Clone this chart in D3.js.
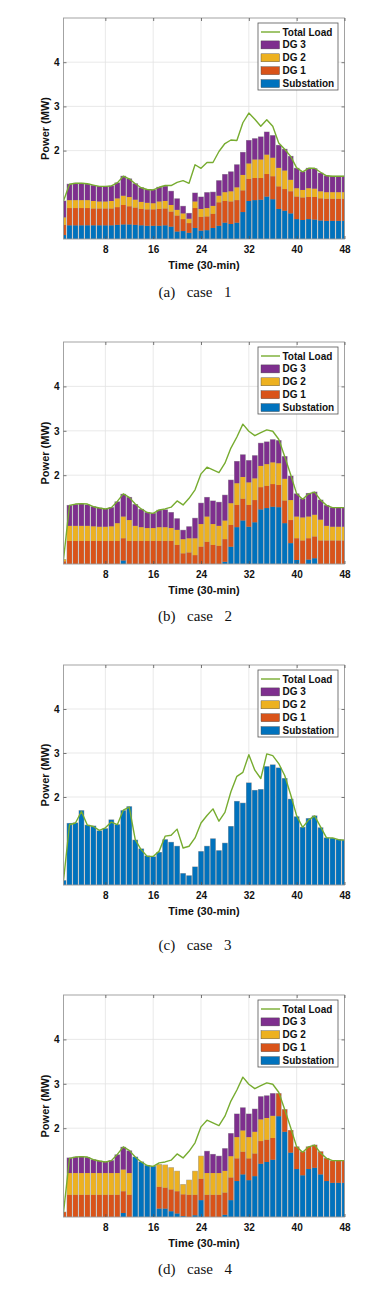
<!DOCTYPE html>
<html><head><meta charset="utf-8">
<script src="https://cdn.jsdelivr.net/npm/d3@7"></script>
<style>body{margin:0;background:#fff}svg{display:block}</style>
</head><body><svg id="c" width="390" height="1296"></svg>
<script>
// ---------- DATA ----------
const time = [1,2,3,4,5,6,7,8,9,10,11,12,13,14,15,16,17,18,19,20,21,22,23,24,25,26,27,28,29,30,31,32,33,34,35,36,37,38,39,40,41,42,43,44,45,46,47,48];
const xTickValues = [8,16,24,32,40,48];
const yTickValues = [2,3,4];
const legendLabels = ["Total Load","DG 3","DG 2","DG 1","Substation"];
const captions = ["(a)  case  1","(b)  case  2","(c)  case  3","(d)  case  4"];
const xLabel = "Time (30-min)";
const yLabel = "Power (MW)";

// case 1
const case1Sub = [0.09,0.31,0.31,0.31,0.31,0.31,0.31,0.31,0.31,0.32,0.33,0.33,0.32,0.31,0.30,0.30,0.30,0.31,0.28,0.17,0.18,0.14,0.25,0.19,0.20,0.25,0.30,0.37,0.34,0.37,0.61,0.86,0.88,0.89,0.96,0.90,0.68,0.64,0.58,0.45,0.43,0.45,0.44,0.42,0.41,0.41,0.41,0.41];
const case1DG1 = [0.23,0.39,0.39,0.39,0.39,0.38,0.38,0.38,0.38,0.40,0.44,0.41,0.39,0.37,0.37,0.37,0.38,0.38,0.34,0.36,0.27,0.22,0.45,0.31,0.31,0.32,0.53,0.49,0.51,0.51,0.49,0.50,0.50,0.49,0.51,0.52,0.51,0.49,0.50,0.51,0.51,0.50,0.51,0.50,0.50,0.50,0.50,0.50];
const case1DG2 = [0.17,0.18,0.18,0.18,0.18,0.17,0.16,0.16,0.17,0.20,0.21,0.21,0.18,0.16,0.15,0.14,0.17,0.17,0.15,0.13,0.13,0.10,0.15,0.18,0.19,0.18,0.15,0.20,0.23,0.29,0.35,0.35,0.42,0.42,0.44,0.42,0.42,0.42,0.26,0.19,0.17,0.20,0.19,0.16,0.15,0.15,0.15,0.15];
const case1DG3 = [0.37,0.36,0.38,0.38,0.36,0.35,0.34,0.34,0.34,0.35,0.44,0.41,0.36,0.32,0.30,0.30,0.32,0.33,0.31,0.25,0.16,0.12,0.19,0.27,0.35,0.31,0.34,0.40,0.44,0.51,0.51,0.52,0.47,0.51,0.51,0.50,0.51,0.48,0.53,0.45,0.41,0.45,0.45,0.41,0.37,0.36,0.36,0.36];
const case1Load = [0.86,1.24,1.26,1.26,1.25,1.22,1.19,1.19,1.20,1.27,1.42,1.36,1.25,1.16,1.12,1.11,1.17,1.21,1.21,1.28,1.32,1.26,1.68,1.60,1.73,1.73,1.98,2.16,2.24,2.23,2.63,2.85,2.71,2.55,2.70,2.55,2.17,2.03,1.87,1.61,1.52,1.60,1.60,1.51,1.43,1.42,1.42,1.42];

// case 2
const case2Sub = [0,0,0,0,0,0,0,0,0,0,0.08,0,0,0,0,0,0,0,0,0,0,0,0,0,0,0,0,0.05,0.39,0.83,0.98,0.84,0.94,1.23,1.26,1.29,1.28,0.92,0.47,0.09,0,0.10,0.13,0,0,0,0,0];
const case2DG1 = [0.06,0.52,0.52,0.52,0.52,0.52,0.52,0.52,0.52,0.52,0.50,0.52,0.52,0.52,0.52,0.52,0.52,0.52,0.52,0.43,0.24,0.26,0.20,0.39,0.50,0.43,0.41,0.51,0.49,0.50,0.49,0.49,0.50,0.50,0.50,0.51,0.50,0.51,0.52,0.49,0.53,0.48,0.49,0.53,0.53,0.53,0.53,0.53];
const case2DG2 = [0.04,0.34,0.34,0.34,0.34,0.33,0.32,0.32,0.33,0.40,0.49,0.47,0.34,0.31,0.29,0.29,0.31,0.31,0.29,0.34,0.32,0.32,0.38,0.51,0.57,0.47,0.45,0.42,0.49,0.49,0.49,0.51,0.49,0.48,0.49,0.49,0.49,0.49,0.45,0.49,0.52,0.49,0.49,0.47,0.33,0.31,0.31,0.31];
const case2DG3 = [0,0.46,0.48,0.49,0.47,0.44,0.42,0.40,0.42,0.48,0.50,0.51,0.48,0.40,0.35,0.33,0.38,0.39,0.35,0.25,0.20,0.26,0.45,0.47,0.43,0.52,0.53,0.57,0.52,0.49,0.50,0.49,0.51,0.51,0.50,0.51,0.51,0.50,0.54,0.51,0.42,0.52,0.51,0.44,0.46,0.43,0.43,0.43];
const case2Load = [0.10,1.32,1.35,1.36,1.35,1.29,1.26,1.24,1.27,1.41,1.58,1.50,1.35,1.24,1.16,1.14,1.22,1.24,1.28,1.42,1.33,1.48,1.67,2.03,2.18,2.12,2.06,2.27,2.61,2.86,3.15,2.99,2.89,2.96,3.02,2.99,2.81,2.42,2.01,1.58,1.46,1.58,1.62,1.44,1.32,1.27,1.27,1.27];

// case 3
const case3Sub = [0.10,1.40,1.41,1.69,1.36,1.34,1.23,1.28,1.48,1.37,1.69,1.78,1.02,0.82,0.66,0.64,0.74,1.03,0.97,0.88,0.26,0.21,0.41,0.76,0.88,1.05,0.78,0.95,1.33,1.90,1.86,2.32,2.15,2.17,2.69,2.73,2.66,2.42,1.95,1.55,1.31,1.51,1.57,1.30,1.07,1.06,1.03,1.02];
const case3DG1 = [0,0,0,0,0,0,0,0,0,0,0,0,0,0,0,0,0,0,0,0,0,0,0,0,0,0,0,0,0,0,0,0,0,0,0,0,0,0,0,0,0,0,0,0,0,0,0,0];
const case3DG2 = [0,0,0,0,0,0,0,0,0,0,0,0,0,0,0,0,0,0,0,0,0,0,0,0,0,0,0,0,0,0,0,0,0,0,0,0,0,0,0,0,0,0,0,0,0,0,0,0];
const case3DG3 = [0,0,0,0,0,0,0,0,0,0,0,0,0,0,0,0,0,0,0,0,0,0,0,0,0,0,0,0,0,0,0,0,0,0,0,0,0,0,0,0,0,0,0,0,0,0,0,0];
const case3Load = [0.10,1.37,1.41,1.67,1.36,1.33,1.24,1.30,1.43,1.37,1.70,1.77,1.03,0.80,0.65,0.65,0.77,1.11,1.13,1.27,0.84,0.88,1.07,1.41,1.58,1.73,1.45,1.65,2.12,2.47,2.56,2.96,2.61,2.42,2.98,2.94,2.76,2.49,2.05,1.57,1.31,1.48,1.57,1.32,1.07,1.07,1.03,1.02];

// case 4
const case4Sub = [0,0,0,0,0,0,0,0,0,0,0.09,0,1.35,1.24,1.16,1.14,0.19,0.19,0.13,0.08,0.02,0,0.04,0.38,0,0,0,0.05,0.38,0.81,0.96,0.83,0.92,1.20,1.24,1.29,2.27,1.92,1.45,1.08,0.94,1.08,1.11,0.96,0.81,0.77,0.77,0.77];
const case4DG1 = [0.11,0.50,0.50,0.50,0.50,0.50,0.50,0.50,0.50,0.50,0.49,0.50,0,0,0,0,0.49,0.47,0.49,0.50,0.49,0.50,0.46,0.48,0.50,0.50,0.50,0.50,0.51,0.51,0.51,0.49,0.51,0.51,0.50,0.49,0.51,0.50,0.50,0.50,0.53,0.50,0.51,0.51,0.51,0.49,0.49,0.49];
const case4DG2 = [0,0.49,0.49,0.49,0.49,0.49,0.49,0.49,0.49,0.49,0.49,0.49,0,0,0,0,0.50,0.51,0.49,0.45,0.22,0.33,0.53,0.51,0.49,0.49,0.49,0.49,0.48,0.48,0.48,0.48,0.49,0.49,0.49,0.50,0,0,0,0,0,0,0,0,0,0,0,0];
const case4DG3 = [0,0.34,0.36,0.37,0.35,0.30,0.27,0.25,0.28,0.41,0.50,0.50,0,0,0,0,0,0,0,0,0,0,0,0,0.49,0.42,0.38,0.50,0.51,0.52,0.51,0.52,0.51,0.51,0.50,0.50,0,0,0,0,0,0,0,0,0,0,0,0];
const case4Load = [0.10,1.32,1.35,1.36,1.35,1.29,1.26,1.24,1.27,1.41,1.58,1.50,1.35,1.24,1.16,1.14,1.22,1.24,1.28,1.42,1.33,1.48,1.67,2.03,2.18,2.12,2.06,2.27,2.61,2.86,3.15,2.99,2.89,2.96,3.02,2.99,2.81,2.42,2.01,1.58,1.46,1.58,1.62,1.44,1.32,1.27,1.27,1.27];

// ---------- STYLE / LAYOUT ----------
const colors = {sub:"#0072BD", dg1:"#D95319", dg2:"#EDB120", dg3:"#7E2F8E", load:"#77AC30"};
const layout = [
  {top:18,  bottom:239,  capY:297},
  {top:342, bottom:564,  capY:621},
  {top:665, bottom:885,  capY:950},
  {top:995, bottom:1217, capY:1274}
];
const cases = [
  {sub:case1Sub, dg1:case1DG1, dg2:case1DG2, dg3:case1DG3, load:case1Load},
  {sub:case2Sub, dg1:case2DG1, dg2:case2DG2, dg3:case2DG3, load:case2Load},
  {sub:case3Sub, dg1:case3DG1, dg2:case3DG2, dg3:case3DG3, load:case3Load},
  {sub:case4Sub, dg1:case4DG1, dg2:case4DG2, dg3:case4DG3, load:case4Load}
];
const X0 = 63.5, X1 = 344.5;
const sans = "'Liberation Sans', Arial, Helvetica, sans-serif";
const serif = "'Liberation Serif', 'Times New Roman', serif";

const svg = d3.select("#c");
const keys = ["sub","dg1","dg2","dg3"];

cases.forEach((cs, pi) => {
  const L = layout[pi];
  const g = svg.append("g");
  const x = d3.scaleLinear().domain([1,48]).range([X0, X1]);
  const y = d3.scaleLinear().domain([0,5]).range([L.bottom, L.top]);
  const step = x(2) - x(1);
  const bw = step * 0.8;

  const clipId = "clip" + pi;
  svg.append("clipPath").attr("id", clipId).append("rect")
    .attr("x", X0).attr("y", L.top).attr("width", X1 - X0).attr("height", L.bottom - L.top);

  // grid
  g.append("g").selectAll("line").data(xTickValues).join("line")
    .attr("x1", d => x(d)).attr("x2", d => x(d)).attr("y1", L.top).attr("y2", L.bottom)
    .attr("stroke", "#e3e3e3").attr("stroke-width", 0.8);
  g.append("g").selectAll("line").data(yTickValues).join("line")
    .attr("x1", X0).attr("x2", X1).attr("y1", d => y(d)).attr("y2", d => y(d))
    .attr("stroke", "#e3e3e3").attr("stroke-width", 0.8);

  const rows = time.map((t, i) => ({t, sub:cs.sub[i], dg1:cs.dg1[i], dg2:cs.dg2[i], dg3:cs.dg3[i]}));
  const stacked = d3.stack().keys(keys)(rows);
  const plot = g.append("g").attr("clip-path", `url(#${clipId})`);

  // bar outlines
  plot.append("g").selectAll("rect").data(rows.filter(r => r.sub + r.dg1 + r.dg2 + r.dg3 > 0)).join("rect")
    .attr("x", d => x(d.t) - bw/2 - 0.45)
    .attr("y", d => y(d.sub + d.dg1 + d.dg2 + d.dg3) - 0.45)
    .attr("width", bw + 0.9)
    .attr("height", d => y(0) - y(d.sub + d.dg1 + d.dg2 + d.dg3) + 0.45)
    .attr("fill", "#a4a4a4");

  stacked.forEach(layer => {
    plot.append("g").attr("fill", colors[layer.key]).selectAll("rect")
      .data(layer.filter(d => d[1] - d[0] > 0)).join("rect")
      .attr("x", d => x(d.data.t) - bw/2)
      .attr("y", d => y(d[1]))
      .attr("width", bw)
      .attr("height", d => y(d[0]) - y(d[1]));
  });

  // load line
  plot.append("path").datum(cs.load)
    .attr("fill", "none").attr("stroke", colors.load).attr("stroke-width", 1.4)
    .attr("stroke-linejoin", "round")
    .attr("d", d3.line().x((d, i) => x(time[i])).y(d => y(d)));

  // box
  g.append("rect").attr("x", X0).attr("y", L.top).attr("width", X1 - X0).attr("height", L.bottom - L.top)
    .attr("fill", "none").attr("stroke", "#9a9a9a").attr("stroke-width", 0.9);

  // axes
  const styleAxis = sel => {
    sel.select(".domain").remove();
    sel.selectAll(".tick line").attr("stroke", "#555").attr("stroke-width", 0.8);
    sel.selectAll("text").attr("font-family", sans).attr("font-weight", "bold")
      .attr("font-size", 10).attr("fill", "#111");
  };
  g.append("g").attr("transform", `translate(0,${L.bottom})`)
    .call(d3.axisBottom(x).tickValues(xTickValues).tickSize(-3).tickPadding(7).tickFormat(d3.format("d"))).call(styleAxis);
  g.append("g").attr("transform", `translate(0,${L.top})`)
    .call(d3.axisTop(x).tickValues(xTickValues).tickSize(-3).tickFormat("")).call(styleAxis);
  g.append("g").attr("transform", `translate(${X0},0)`)
    .call(d3.axisLeft(y).tickValues(yTickValues).tickSize(-3).tickPadding(4).tickFormat(d3.format("d"))).call(styleAxis);
  g.append("g").attr("transform", `translate(${X1},0)`)
    .call(d3.axisRight(y).tickValues(yTickValues).tickSize(-3).tickFormat("")).call(styleAxis);

  // axis labels
  g.append("text").attr("x", (X0 + X1)/2).attr("y", L.bottom + 30)
    .attr("text-anchor", "middle").attr("font-family", sans).attr("font-weight", "bold")
    .attr("font-size", 11).attr("fill", "#111").text(xLabel);
  g.append("text").attr("transform", `translate(45,${(L.top + L.bottom)/2}) rotate(-90)`)
    .attr("dy", "0.35em").attr("text-anchor", "middle").attr("font-family", sans)
    .attr("font-weight", "bold").attr("font-size", 11).attr("fill", "#111").text(yLabel);

  // legend
  const lg = g.append("g").attr("transform", `translate(258,${L.top + 5})`);
  lg.append("rect").attr("width", 80).attr("height", 67).attr("fill", "#fff")
    .attr("stroke", "#555").attr("stroke-width", 0.8);
  const legendColors = [colors.load, colors.dg3, colors.dg2, colors.dg1, colors.sub];
  legendLabels.forEach((lab, i) => {
    const cy = 9 + i * 12.9;
    if (i === 0) {
      lg.append("line").attr("x1", 3).attr("x2", 22).attr("y1", cy).attr("y2", cy)
        .attr("stroke", legendColors[i]).attr("stroke-width", 1.4);
    } else {
      lg.append("rect").attr("x", 3).attr("y", cy - 4).attr("width", 18.5).attr("height", 8)
        .attr("fill", legendColors[i]).attr("stroke", "#444").attr("stroke-width", 0.4);
    }
    lg.append("text").attr("x", 24.5).attr("y", cy).attr("dy", "0.35em")
      .attr("font-family", sans).attr("font-weight", "bold").attr("font-size", 10)
      .attr("fill", "#111").text(lab);
  });

  // caption
  g.append("text").attr("x", 195).attr("y", L.capY).attr("text-anchor", "middle")
    .attr("font-family", serif).attr("font-size", 15).attr("fill", "#111")
    .attr("style", "white-space:pre").attr("word-spacing", "2px").text(captions[pi]);
});
</script></body></html>
